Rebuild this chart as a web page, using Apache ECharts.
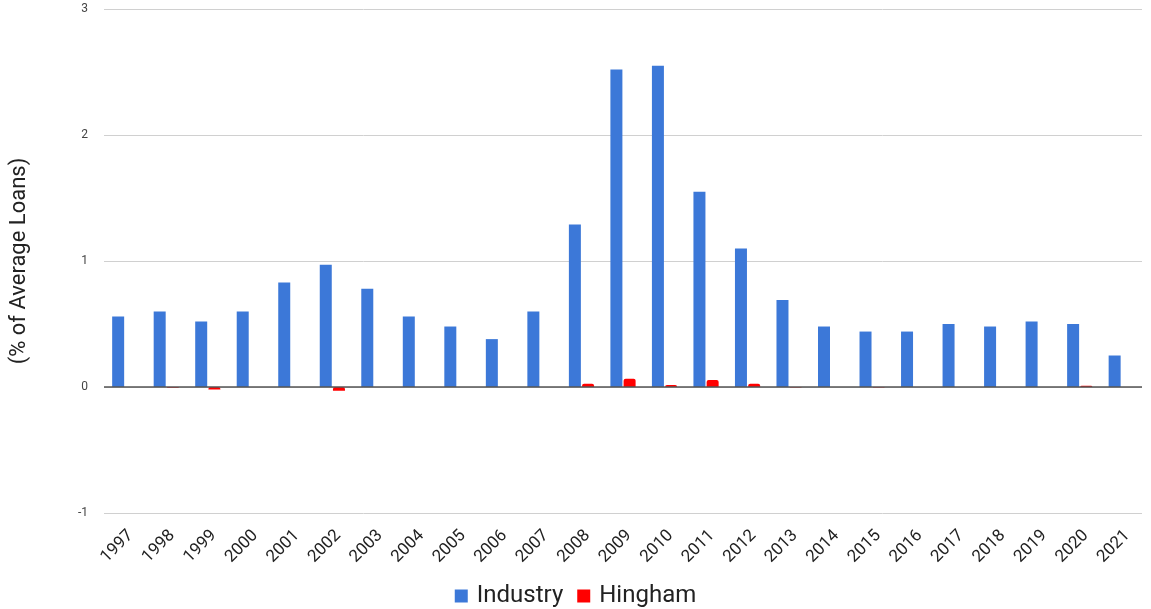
<!DOCTYPE html>
<html>
<head>
<meta charset="utf-8">
<script src="https://cdn.jsdelivr.net/npm/echarts@6/dist/echarts.min.js"></script>
<style>html,body{margin:0;padding:0;background:#fff;}#c{width:1151px;height:609px;}</style>
</head>
<body>
<div id="c"></div>
<script>
var years = ['1997','1998','1999','2000','2001','2002','2003','2004','2005','2006','2007','2008','2009','2010','2011','2012','2013','2014','2015','2016','2017','2018','2019','2020','2021'];
var industry = [0.56,0.60,0.52,0.60,0.83,0.97,0.78,0.56,0.48,0.38,0.60,1.29,2.52,2.55,1.55,1.10,0.69,0.48,0.44,0.44,0.50,0.48,0.52,0.50,0.25];
var hingham = [0,-0.005,-0.02,0,0,-0.03,0,0,0,0,0,0.025,0.065,0.015,0.055,0.025,-0.003,0,-0.003,0,0,0,0,0.01,0];
var yTicks = [-1,0,1,2,3];

var chart = echarts.init(document.getElementById('c'));
chart.setOption({
  animation: false,
  grid: {left: 103, right: 9, top: 9, bottom: 96},
  legend: {
    bottom: -4, left: 'center', itemWidth: 13, itemHeight: 13, itemGap: 14,
    icon: 'rect',
    textStyle: {fontSize: 24, color: '#222', fontFamily: 'Roboto', padding: [0, 0, 0, 4]},
    data: ['Industry','Hingham']
  },
  xAxis: {
    type: 'category', data: years,
    axisLine: {show: false}, axisTick: {show: false},
    axisLabel: {rotate: 45, fontSize: 17, color: '#222', fontFamily: 'Roboto', margin: 14, interval: 0, verticalAlign: 'top'}
  },
  yAxis: {
    type: 'value', min: yTicks[0], max: yTicks[yTicks.length-1], interval: 1,
    name: '(% of Average Loans)', nameLocation: 'middle', nameGap: 74,
    nameTextStyle: {fontSize: 22, color: '#222', fontFamily: 'Roboto'},
    axisLabel: {fontSize: 12, color: '#444', fontFamily: 'Roboto', margin: 16},
    axisLine: {show: false}, axisTick: {show: false},
    splitLine: {lineStyle: {color: '#d0d0d0', width: 1}}
  },
  series: [
    {name: 'Industry', type: 'bar', data: industry, barWidth: 12, barGap: '10%',
     itemStyle: {color: '#3c78d8'},
     markLine: {silent: true, symbol: 'none', label: {show: false},
       lineStyle: {color: '#555', width: 1.5, type: 'solid'}, data: [{yAxis: 0}]}},
    {name: 'Hingham', type: 'bar', data: hingham, barWidth: 12,
     itemStyle: {color: '#ff0000', borderRadius: [2,2,0,0]}}
  ]
});
</script>
</body>
</html>
